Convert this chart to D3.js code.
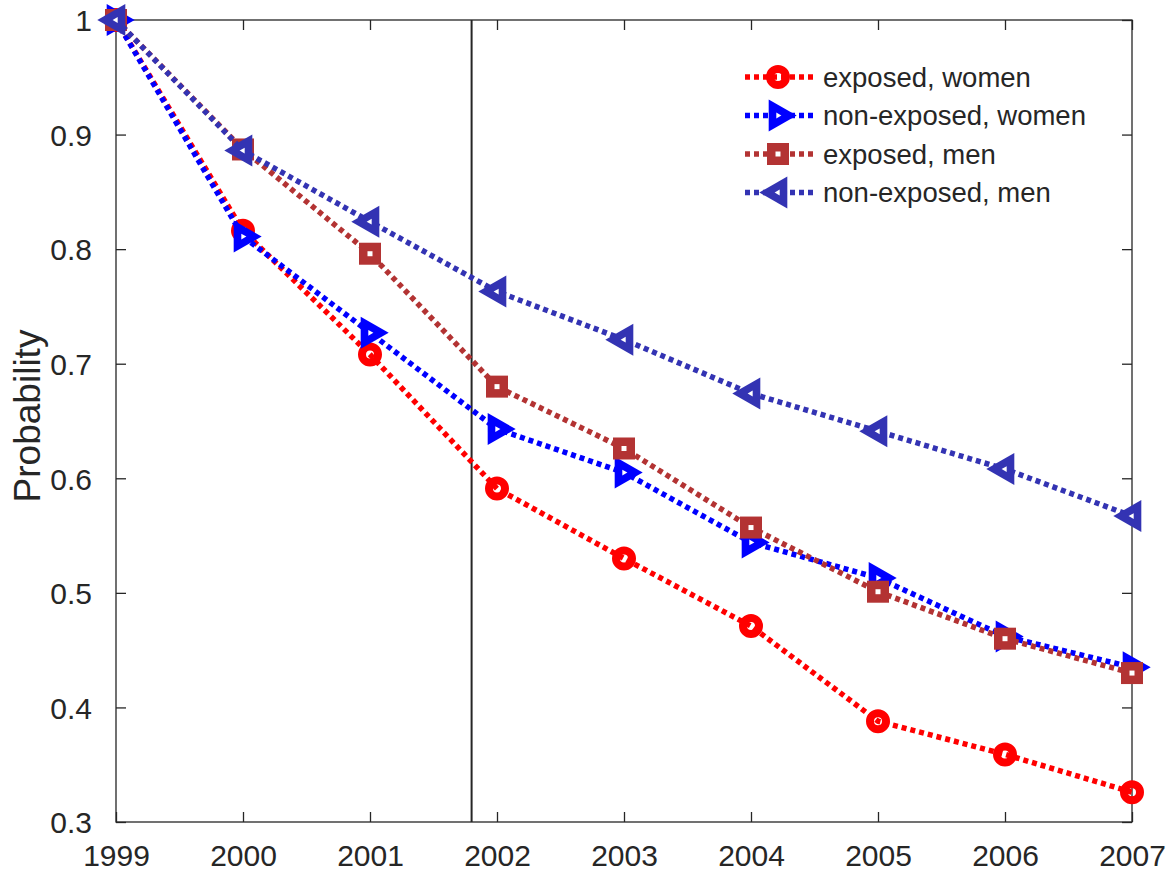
<!DOCTYPE html>
<html>
<head>
<meta charset="utf-8">
<script src="https://cdn.jsdelivr.net/npm/d3@7"></script>
<style>
  html, body { margin: 0; padding: 0; background: #fff; }
  svg { display: block; }
  text { font-family: "Liberation Sans", Arial, Helvetica, sans-serif; fill: #262626; }
</style>
</head>
<body>
<svg id="chart" width="1170" height="875"></svg>
<script>
// ---- data ----
const years = [1999, 2000, 2001, 2002, 2003, 2004, 2005, 2006, 2007];
const exposedWomen    = [1.000, 0.816, 0.708, 0.591, 0.530, 0.471, 0.388, 0.359, 0.326];
const nonExposedWomen = [1.000, 0.811, 0.727, 0.643, 0.605, 0.544, 0.513, 0.462, 0.435];
const exposedMen      = [1.000, 0.887, 0.796, 0.680, 0.626, 0.557, 0.501, 0.460, 0.430];
const nonExposedMen   = [1.000, 0.886, 0.824, 0.763, 0.721, 0.674, 0.641, 0.608, 0.567];
const seriesNames = ["exposed, women", "non-exposed, women", "exposed, men", "non-exposed, men"];
const yTicks = [0.3, 0.4, 0.5, 0.6, 0.7, 0.8, 0.9, 1];
const yTickLabels = ["0.3", "0.4", "0.5", "0.6", "0.7", "0.8", "0.9", "1"];
const xTickLabels = ["1999", "2000", "2001", "2002", "2003", "2004", "2005", "2006", "2007"];
const markerLine = 2001.8;
const yLabel = "Probability";

// ---- styles ----
const colors = ["#ff0000", "#0000ff", "#b33333", "#3333b3"];
const markers = ["circle", "triRight", "square", "triLeft"];
const series = [exposedWomen, nonExposedWomen, exposedMen, nonExposedMen];

const svg = d3.select("#chart");
const L = 116, R = 1132, T = 20, B = 822;
const x = d3.scaleLinear().domain([1999, 2007]).range([L, R]);
const y = d3.scaleLinear().domain([0.3, 1]).range([B, T]);
const axisColor = "#262626";

function drawMarker(g, type, cx, cy, color) {
  const s = g.append("g").attr("transform", `translate(${cx},${cy})`);
  if (type === "circle") {
    s.append("circle").attr("r", 8).attr("fill", "none").attr("stroke", color).attr("stroke-width", 8);
  } else if (type === "square") {
    s.append("rect").attr("x", -11).attr("y", -11).attr("width", 22).attr("height", 22).attr("fill", color);
    s.append("rect").attr("x", -2.5).attr("y", -2.5).attr("width", 5).attr("height", 5).attr("fill", "#fff");
  } else {
    const dir = type === "triRight" ? 1 : -1;
    const w = 28, h = 32;
    const pts = [[-w / 3 * dir, -h / 2], [2 * w / 3 * dir, 0], [-w / 3 * dir, h / 2]];
    s.append("path").attr("d", d3.line()(pts) + "Z").attr("fill", color);
    const k = 0.18;
    s.append("path").attr("d", d3.line()(pts.map(p => [p[0] * k, p[1] * k])) + "Z").attr("fill", "#fff");
  }
}

// axes frame
const frame = svg.append("g");
frame.append("rect").attr("x", L).attr("y", T).attr("width", R - L).attr("height", B - T)
  .attr("fill", "none").attr("stroke", axisColor).attr("stroke-width", 1.3);

// ticks (inward) using d3 axes
const tickLen = 10;
const xAxisB = svg.append("g").attr("transform", `translate(0,${B})`)
  .call(d3.axisBottom(x).tickValues(years).tickSize(-tickLen).tickFormat((d, i) => xTickLabels[i]).tickPadding(22));
const xAxisT = svg.append("g").attr("transform", `translate(0,${T})`)
  .call(d3.axisTop(x).tickValues(years).tickSize(-tickLen).tickFormat(""));
const yAxisL = svg.append("g").attr("transform", `translate(${L},0)`)
  .call(d3.axisLeft(y).tickValues(yTicks).tickSize(-tickLen).tickFormat((d, i) => yTickLabels[i]).tickPadding(24));
const yAxisR = svg.append("g").attr("transform", `translate(${R},0)`)
  .call(d3.axisRight(y).tickValues(yTicks).tickSize(-tickLen).tickFormat(""));
[xAxisB, xAxisT, yAxisL, yAxisR].forEach(a => {
  a.select(".domain").remove();
  a.selectAll(".tick line").attr("stroke", axisColor).attr("stroke-width", 1.3);
  a.selectAll("text").attr("font-size", 30).attr("fill", axisColor)
    .attr("font-family", '"Liberation Sans", Arial, Helvetica, sans-serif');
});
xAxisB.selectAll("text").attr("dy", "0.71em").attr("y", 23);
yAxisL.selectAll("text").attr("dy", "0.36em");

// y label
svg.append("text").attr("transform", `translate(40,416) rotate(-90)`)
  .attr("text-anchor", "middle").attr("font-size", 37).text(yLabel);

// vertical reference line
svg.append("line").attr("x1", x(markerLine)).attr("x2", x(markerLine)).attr("y1", T).attr("y2", B)
  .attr("stroke", axisColor).attr("stroke-width", 2);

// series
const line = d3.line().x((d, i) => x(years[i])).y(d => y(d));
series.forEach((vals, si) => {
  const g = svg.append("g");
  g.append("path").attr("d", line(vals)).attr("fill", "none").attr("stroke", colors[si])
    .attr("stroke-width", 5.5).attr("stroke-dasharray", "5,4");
  vals.forEach((v, i) => drawMarker(g, markers[si], x(years[i]), y(v), colors[si]));
});

// legend
const legend = svg.append("g");
const legY0 = 77, legDy = 38.5;
seriesNames.forEach((name, si) => {
  const ly = legY0 + si * legDy;
  const g = legend.append("g");
  g.append("line").attr("x1", 745).attr("x2", 815).attr("y1", ly).attr("y2", ly)
    .attr("stroke", colors[si]).attr("stroke-width", 5.5).attr("stroke-dasharray", "5,4");
  drawMarker(g, markers[si], 778, ly, colors[si]);
  g.append("text").attr("x", 823).attr("y", ly).attr("dy", "0.35em").attr("font-size", 27.5)
    .attr("fill", "#000").text(name);
});
</script>
</body>
</html>
